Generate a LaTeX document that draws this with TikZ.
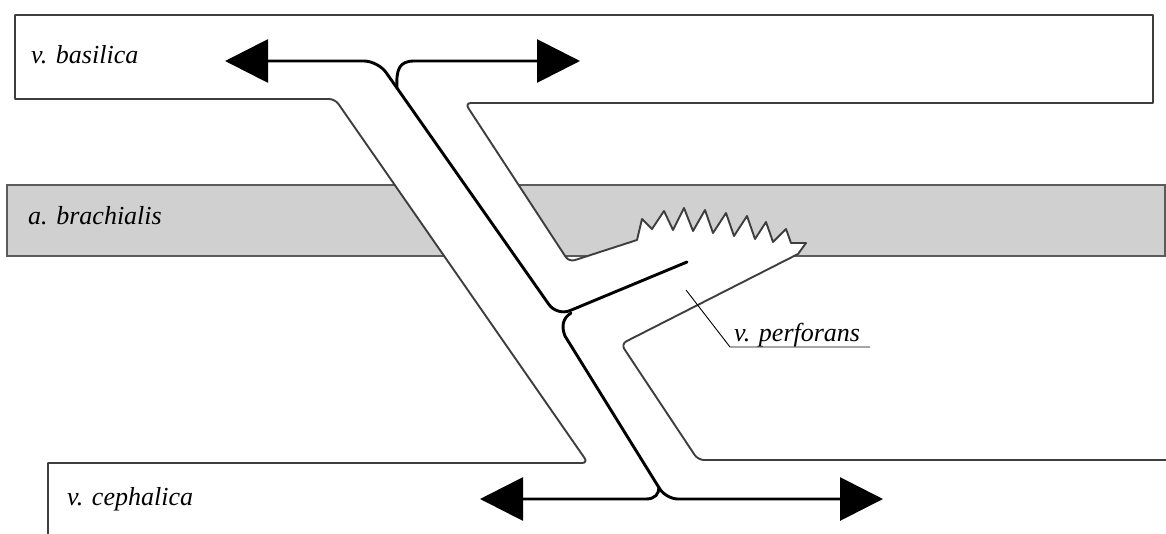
\documentclass[tikz,border=0pt]{standalone}
\usepackage{fontspec}
\setmainfont{Liberation Serif}
\usetikzlibrary{arrows.meta}
\definecolor{bandfill}{RGB}{208,208,208}
\definecolor{edge}{RGB}{62,62,62}
\begin{document}
\begin{tikzpicture}[x=1pt,y=-1pt,
  outline/.style={draw=edge, line width=1.9pt, line join=round},
  flow/.style={draw=black, line width=2.9pt, line cap=round, line join=round},
  bigtip/.tip={Triangle[length=43pt,width=43pt]},
  lbl/.style={font=\fontsize{26}{30}\selectfont\itshape, inner sep=0pt, anchor=base west},
  leader/.style={draw=black, line width=0.9pt}]
\useasboundingbox (0,0) rectangle (1166,533);
\fill[white] (0,0) rectangle (1166,533);

% a. brachialis: grey band behind the veins
\draw[fill=bandfill, draw=edge!85!white, line width=1.9pt] (7,185) rectangle (1165,256);

% vein tissue (white), covering the artery where it crosses
\path[fill=white]
  (48,540) -- (48,463) [rounded corners=6pt] -- (588,463) -- (335,99) [sharp corners]
  -- (15,99) -- (15,15) -- (1153,15) -- (1153,103) [rounded corners=6pt] -- (465,103)
  -- (569,262) [sharp corners] -- (637,240)
  -- (642,219) -- (652,229) -- (664,211) -- (673,230) -- (684,208)
  -- (693,231) -- (705,210) -- (713,233) -- (726,213) -- (734,236) -- (747,216)
  -- (755,239) -- (766,222) -- (773,242) -- (786,229) -- (791,243) -- (806,243)
  -- (798,254) [rounded corners=6pt] -- (621,344) -- (698,460) [sharp corners]
  -- (1170,460) -- (1170,540) -- cycle;

% outline of the veins
\draw[outline]
  (48,540) -- (48,463) [rounded corners=6pt] -- (588,463) -- (335,99) [sharp corners]
  -- (15,99) -- (15,15) -- (1153,15) -- (1153,103) [rounded corners=6pt] -- (465,103)
  -- (569,262) [sharp corners] -- (637,240)
  -- (642,219) -- (652,229) -- (664,211) -- (673,230) -- (684,208)
  -- (693,231) -- (705,210) -- (713,233) -- (726,213) -- (734,236) -- (747,216)
  -- (755,239) -- (766,222) -- (773,242) -- (786,229) -- (791,243) -- (806,243)
  -- (798,254) [rounded corners=6pt] -- (621,344) -- (698,460) [sharp corners]
  -- (1170,460);

% flow directions
\coordinate (bas-l) at (225,61);
\coordinate (bas-r) at (580,61);
\coordinate (ceph-l) at (480,499);
\coordinate (ceph-r) at (883,499);
\coordinate (bend-top) at (378,61);
\coordinate (bend-mid) at (557,316);
\coordinate (bend-low) at (666,499);
\coordinate (perf-end) at (687,262);

\draw[flow, {bigtip}-, rounded corners=14pt] (bas-l) -- (bend-top) -- (bend-mid) -- (perf-end);
\draw[flow, -{bigtip}] (397,88) .. controls (396,70) and (399,61) .. (414,61) -- (bas-r);
\draw[flow, -{bigtip}] (571,313) .. controls (563,318) and (561,326) .. (565,336)
  [rounded corners=12pt] -- (bend-low) -- (ceph-r);
\draw[flow, {bigtip}-] (ceph-l) -- (646,499) .. controls (655,499) and (659,494) .. (659,487);

% labels
\node[lbl] (lb-bas) at (31,63) {v. basilica};
\node[lbl] (lb-bra) at (28,224) {a. brachialis};
\node[lbl] (lb-cep) at (67,505) {v. cephalica};
\node[lbl] (lb-per) at (734,341) {v. perforans};
\coordinate (perf-pt) at (686,290);
\coordinate (ul-a) at (730,347);
\coordinate (ul-b) at (870,347);
\draw[leader] (perf-pt) -- (ul-a) -- (ul-b);
\end{tikzpicture}
\end{document}
